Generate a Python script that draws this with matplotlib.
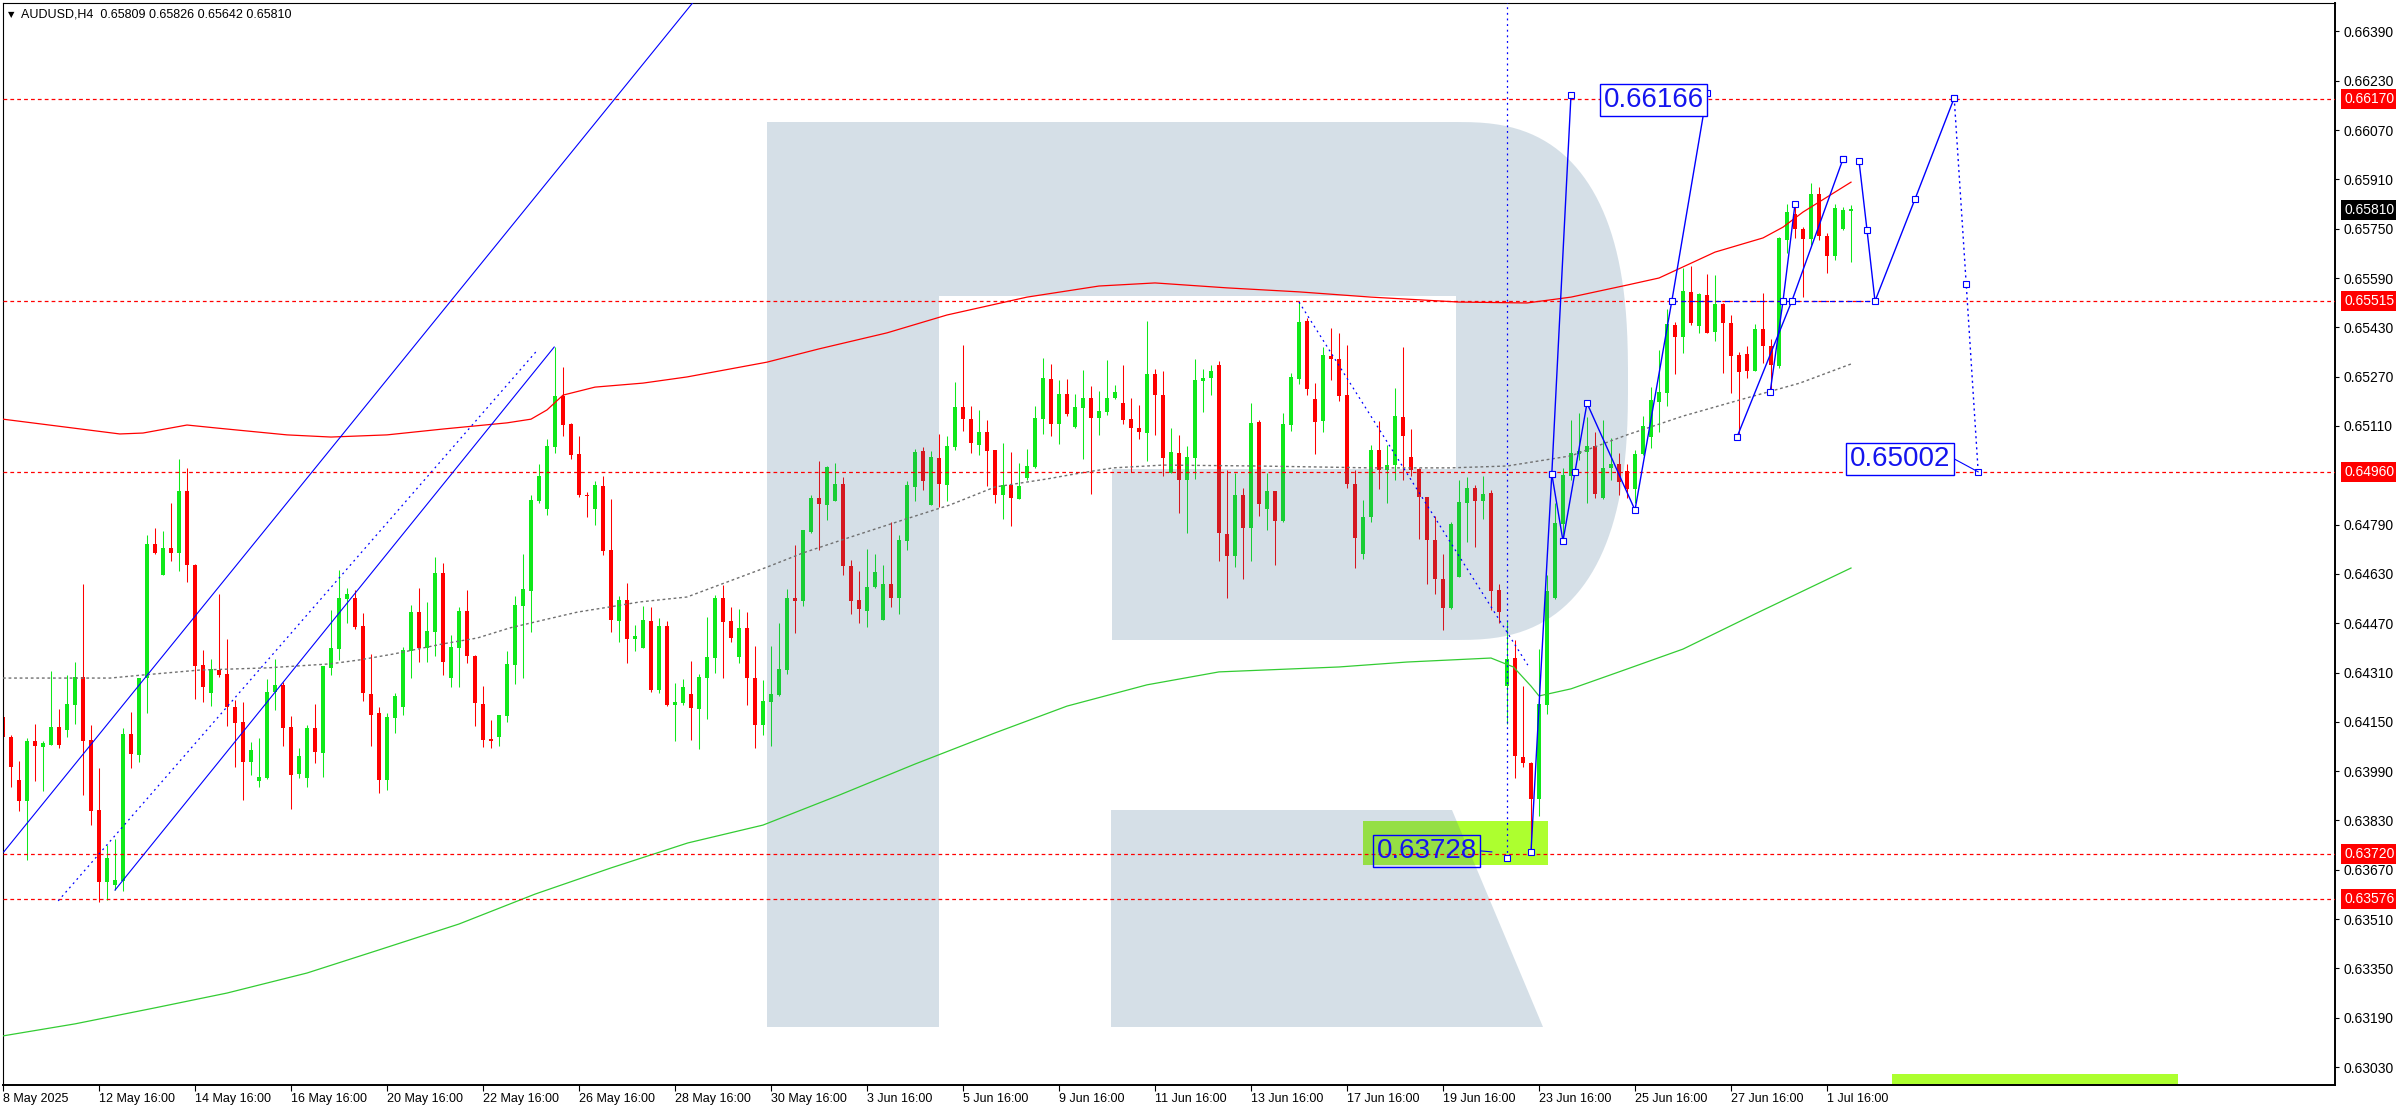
import numpy as np
import matplotlib.pyplot as plt
from matplotlib.patches import Rectangle, PathPatch
from matplotlib.path import Path

# AUDUSD H4 candles, 8 May 16:00 .. 2 Jul 04:00
opens = [0.64167, 0.64100, 0.63961, 0.63894, 0.64088, 0.64069, 0.64076, 0.64132, 0.64123, 0.64206,
         0.64294, 0.64091, 0.63864, 0.63631, 0.63621, 0.63634, 0.64110, 0.64042, 0.64291, 0.64727,
         0.64626, 0.64713, 0.64699, 0.64899, 0.64659, 0.64333, 0.64245, 0.64318, 0.64304, 0.64199,
         0.64148, 0.64021, 0.63959, 0.63969, 0.64246, 0.64270, 0.64132, 0.63981, 0.63969, 0.64129,
         0.64050, 0.64326, 0.64387, 0.64549, 0.64551, 0.64461, 0.64240, 0.64178, 0.63960, 0.64164,
         0.64199, 0.64381, 0.64505, 0.64389, 0.64443, 0.64632, 0.64293, 0.64389, 0.64508, 0.64364,
         0.64208, 0.64091, 0.64102, 0.64170, 0.64335, 0.64527, 0.64576, 0.64867, 0.64841, 0.65043,
         0.65207, 0.65116, 0.65018, 0.64886, 0.64841, 0.64915, 0.64708, 0.64478, 0.64545, 0.64418,
         0.64391, 0.64477, 0.64253, 0.64461, 0.64204, 0.64212, 0.64239, 0.64191, 0.64293, 0.64358,
         0.64553, 0.64477, 0.64361, 0.64453, 0.64291, 0.64139, 0.64215, 0.64237, 0.64318, 0.64551,
         0.64543, 0.64767, 0.64876, 0.64852, 0.64865, 0.64922, 0.64657, 0.64546, 0.64511, 0.64587,
         0.64481, 0.64598, 0.64553, 0.64738, 0.64913, 0.65029, 0.64854, 0.65005, 0.64919, 0.65042,
         0.65170, 0.65132, 0.65048, 0.65089, 0.65031, 0.64885, 0.64918, 0.64872, 0.64942, 0.64977,
         0.65132, 0.65262, 0.65116, 0.65215, 0.65107, 0.65169, 0.65202, 0.65136, 0.65156, 0.65201,
         0.65186, 0.65131, 0.65102, 0.65088, 0.65280, 0.65212, 0.64956, 0.65021, 0.64936, 0.65007,
         0.65256, 0.65267, 0.65307, 0.64761, 0.64689, 0.64885, 0.64779, 0.65123, 0.64840, 0.64900,
         0.64801, 0.65114, 0.65263, 0.65449, 0.65196, 0.65127, 0.65338, 0.65328, 0.65210, 0.64922,
         0.64695, 0.64816, 0.65033, 0.64966, 0.64984, 0.65138, 0.65008, 0.64971, 0.64881, 0.64741,
         0.64614, 0.64518, 0.64621, 0.64859, 0.64910, 0.64865, 0.64891, 0.64577, 0.64267, 0.64356,
         0.64037, 0.64016, 0.63901, 0.64205, 0.64552, 0.64792, 0.64949, 0.65019, 0.65026, 0.65045,
         0.64877, 0.64972, 0.64986, 0.64964, 0.64907, 0.65018, 0.65075, 0.65189, 0.65216, 0.65437,
         0.65399, 0.65543, 0.65434, 0.65535, 0.65414, 0.65505, 0.65443, 0.65340, 0.65343, 0.65289,
         0.65423, 0.65369, 0.65305, 0.65713, 0.65797, 0.65749, 0.65715, 0.65862, 0.65726, 0.65662,
         0.65748, 0.65809]
highs = [0.64324, 0.64107, 0.64023, 0.64096, 0.64143, 0.64088, 0.64315, 0.64190, 0.64302, 0.64343,
         0.64597, 0.64140, 0.63999, 0.63750, 0.63769, 0.64129, 0.64183, 0.64293, 0.64756, 0.64779,
         0.64769, 0.64859, 0.65003, 0.64972, 0.64661, 0.64383, 0.64353, 0.64565, 0.64419, 0.64221,
         0.64213, 0.64086, 0.64096, 0.64288, 0.64354, 0.64280, 0.64169, 0.64064, 0.64140, 0.64208,
         0.64331, 0.64513, 0.64643, 0.64583, 0.64578, 0.64502, 0.64370, 0.64199, 0.64178, 0.64242,
         0.64394, 0.64529, 0.64583, 0.64538, 0.64684, 0.64664, 0.64432, 0.64524, 0.64578, 0.64367,
         0.64266, 0.64156, 0.64172, 0.64380, 0.64558, 0.64695, 0.64886, 0.64987, 0.65067, 0.65365,
         0.65302, 0.65119, 0.65078, 0.64895, 0.64932, 0.64946, 0.64873, 0.64558, 0.64599, 0.64464,
         0.64526, 0.64522, 0.64486, 0.64477, 0.64275, 0.64288, 0.64347, 0.64305, 0.64489, 0.64562,
         0.64594, 0.64524, 0.64516, 0.64505, 0.64396, 0.64285, 0.64396, 0.64471, 0.64581, 0.64724,
         0.64771, 0.64886, 0.64997, 0.64981, 0.64989, 0.64944, 0.64675, 0.64640, 0.64711, 0.64695,
         0.64659, 0.64797, 0.64757, 0.64932, 0.65036, 0.65043, 0.65029, 0.65084, 0.65078, 0.65253,
         0.65372, 0.65174, 0.65161, 0.65129, 0.65031, 0.65056, 0.65024, 0.64990, 0.65035, 0.65174,
         0.65332, 0.65310, 0.65259, 0.65262, 0.65213, 0.65291, 0.65239, 0.65223, 0.65323, 0.65242,
         0.65307, 0.65201, 0.65177, 0.65450, 0.65294, 0.65288, 0.65104, 0.65080, 0.65044, 0.65327,
         0.65296, 0.65307, 0.65320, 0.64967, 0.64958, 0.64910, 0.65186, 0.65129, 0.64956, 0.64900,
         0.65151, 0.65281, 0.65512, 0.65459, 0.65250, 0.65366, 0.65428, 0.65413, 0.65372, 0.64966,
         0.64871, 0.65047, 0.65126, 0.65049, 0.65233, 0.65366, 0.65101, 0.64975, 0.64881, 0.64817,
         0.64695, 0.64798, 0.64934, 0.64944, 0.64919, 0.64946, 0.64903, 0.64596, 0.64478, 0.64416,
         0.64267, 0.64021, 0.64385, 0.64627, 0.64859, 0.64975, 0.65129, 0.65151, 0.65138, 0.65089,
         0.65129, 0.65070, 0.65021, 0.64985, 0.65032, 0.65143, 0.65235, 0.65356, 0.65491, 0.65446,
         0.65621, 0.65629, 0.65540, 0.65603, 0.65600, 0.65509, 0.65470, 0.65351, 0.65369, 0.65441,
         0.65540, 0.65391, 0.65724, 0.65829, 0.65827, 0.65754, 0.65897, 0.65886, 0.65735, 0.65830,
         0.65821, 0.65826]
lows = [0.64021, 0.63940, 0.63862, 0.63702, 0.63959, 0.63926, 0.64076, 0.64066, 0.64102, 0.64143,
        0.63912, 0.63815, 0.63566, 0.63572, 0.63604, 0.63602, 0.64001, 0.64021, 0.64180, 0.64695,
        0.64626, 0.64673, 0.64639, 0.64605, 0.64224, 0.64215, 0.64201, 0.64297, 0.64137, 0.64005,
        0.63896, 0.63977, 0.63937, 0.63963, 0.64188, 0.64073, 0.63867, 0.63967, 0.63940, 0.64017,
        0.63972, 0.64302, 0.64351, 0.64470, 0.64450, 0.64219, 0.64070, 0.63920, 0.63930, 0.64113,
        0.64172, 0.64291, 0.64345, 0.64345, 0.64362, 0.64302, 0.64264, 0.64262, 0.64342, 0.64138,
        0.64067, 0.64064, 0.64072, 0.64148, 0.64272, 0.64291, 0.64443, 0.64859, 0.64821, 0.65021,
        0.65078, 0.65003, 0.64881, 0.64816, 0.64789, 0.64691, 0.64443, 0.64410, 0.64340, 0.64381,
        0.64391, 0.64248, 0.64244, 0.64201, 0.64089, 0.64204, 0.64091, 0.64062, 0.64159, 0.64309,
        0.64293, 0.64410, 0.64342, 0.64204, 0.64066, 0.64107, 0.64072, 0.64234, 0.64305, 0.64437,
        0.64526, 0.64762, 0.64708, 0.64805, 0.64865, 0.64625, 0.64499, 0.64472, 0.64459, 0.64583,
        0.64479, 0.64524, 0.64499, 0.64706, 0.64867, 0.64903, 0.64854, 0.64846, 0.64867, 0.65031,
        0.65094, 0.65023, 0.65015, 0.64916, 0.64861, 0.64808, 0.64786, 0.64872, 0.64934, 0.64974,
        0.65083, 0.65078, 0.65051, 0.65142, 0.65104, 0.65002, 0.64889, 0.65080, 0.65145, 0.65199,
        0.65116, 0.64959, 0.65067, 0.64996, 0.65080, 0.64948, 0.64956, 0.64828, 0.64763, 0.64937,
        0.65154, 0.65212, 0.64672, 0.64553, 0.64653, 0.64615, 0.64672, 0.64818, 0.64773, 0.64658,
        0.64799, 0.65095, 0.65245, 0.65210, 0.65018, 0.65089, 0.65258, 0.65192, 0.64910, 0.64649,
        0.64677, 0.64798, 0.64906, 0.64860, 0.64935, 0.64935, 0.64947, 0.64742, 0.64596, 0.64565,
        0.64449, 0.64516, 0.64619, 0.64732, 0.64718, 0.64809, 0.64513, 0.64472, 0.64143, 0.63969,
        0.64004, 0.63728, 0.63845, 0.64177, 0.64550, 0.64739, 0.64934, 0.65000, 0.64859, 0.64875,
        0.64872, 0.64934, 0.64886, 0.64875, 0.64859, 0.65016, 0.65039, 0.65091, 0.65175, 0.65278,
        0.65348, 0.65437, 0.65410, 0.65410, 0.65385, 0.65283, 0.65218, 0.65075, 0.65264, 0.65287,
        0.65313, 0.65221, 0.65297, 0.65672, 0.65719, 0.65529, 0.65697, 0.65713, 0.65607, 0.65648,
        0.65746, 0.65642]
closes = [0.64100, 0.64005, 0.63894, 0.64088, 0.64073, 0.64080, 0.64132, 0.64076, 0.64208, 0.64294,
          0.64089, 0.63862, 0.63631, 0.63707, 0.63637, 0.64110, 0.64046, 0.64293, 0.64727, 0.64699,
          0.64713, 0.64699, 0.64899, 0.64659, 0.64331, 0.64264, 0.64320, 0.64302, 0.64199, 0.64147,
          0.64021, 0.64059, 0.63972, 0.64246, 0.64270, 0.64131, 0.63977, 0.64039, 0.64129, 0.64051,
          0.64331, 0.64389, 0.64551, 0.64564, 0.64459, 0.64243, 0.64172, 0.63960, 0.64167, 0.64234,
          0.64383, 0.64505, 0.64391, 0.64445, 0.64632, 0.64345, 0.64392, 0.64508, 0.64362, 0.64210,
          0.64091, 0.64089, 0.64172, 0.64338, 0.64529, 0.64581, 0.64870, 0.64948, 0.65045, 0.65207,
          0.65113, 0.65016, 0.64886, 0.64883, 0.64919, 0.64705, 0.64481, 0.64545, 0.64419, 0.64429,
          0.64481, 0.64253, 0.64461, 0.64204, 0.64213, 0.64262, 0.64196, 0.64294, 0.64359, 0.64553,
          0.64475, 0.64423, 0.64453, 0.64293, 0.64139, 0.64217, 0.64240, 0.64321, 0.64553, 0.64543,
          0.64771, 0.64876, 0.64856, 0.64976, 0.64922, 0.64657, 0.64543, 0.64515, 0.64587, 0.64635,
          0.64598, 0.64553, 0.64740, 0.64919, 0.65025, 0.64932, 0.65009, 0.64922, 0.65045, 0.65170,
          0.65132, 0.65055, 0.65089, 0.65029, 0.64885, 0.64918, 0.64877, 0.64915, 0.64980, 0.65136,
          0.65266, 0.65116, 0.65215, 0.65148, 0.65170, 0.65202, 0.65136, 0.65158, 0.65202, 0.65219,
          0.65129, 0.65104, 0.65091, 0.65280, 0.65210, 0.65007, 0.65024, 0.64936, 0.65008, 0.65259,
          0.65267, 0.65288, 0.64764, 0.64689, 0.64885, 0.64779, 0.65121, 0.64858, 0.64900, 0.64801,
          0.65117, 0.65269, 0.65446, 0.65229, 0.65124, 0.65341, 0.65328, 0.65208, 0.64922, 0.64747,
          0.64816, 0.65033, 0.64966, 0.64984, 0.65142, 0.65078, 0.64968, 0.64881, 0.64741, 0.64614,
          0.64518, 0.64791, 0.64863, 0.64910, 0.64866, 0.64888, 0.64575, 0.64505, 0.64354, 0.64040,
          0.64016, 0.63901, 0.64207, 0.64573, 0.64795, 0.64950, 0.65021, 0.65029, 0.65045, 0.64888,
          0.64972, 0.64986, 0.64929, 0.64907, 0.65018, 0.65110, 0.65194, 0.65219, 0.65441, 0.65399,
          0.65548, 0.65443, 0.65538, 0.65412, 0.65505, 0.65443, 0.65338, 0.65284, 0.65289, 0.65423,
          0.65369, 0.65308, 0.65721, 0.65805, 0.65749, 0.65716, 0.65862, 0.65727, 0.65662, 0.65816,
          0.65810, 0.65810]

date_labels = ['8 May 2025', '12 May 16:00', '14 May 16:00', '16 May 16:00', '20 May 16:00',
               '22 May 16:00', '26 May 16:00', '28 May 16:00', '30 May 16:00', '3 Jun 16:00',
               '5 Jun 16:00', '9 Jun 16:00', '11 Jun 16:00', '13 Jun 16:00', '17 Jun 16:00',
               '19 Jun 16:00', '23 Jun 16:00', '25 Jun 16:00', '27 Jun 16:00', '1 Jul 16:00']
price_ticks = [0.66390, 0.66230, 0.66070, 0.65910, 0.65750, 0.65590, 0.65430, 0.65270, 0.65110,
               0.64790, 0.64630, 0.64470, 0.64310, 0.64150, 0.63990, 0.63830, 0.63670, 0.63510,
               0.63350, 0.63190, 0.63030]
levels = [0.66170, 0.65515, 0.64960, 0.63720, 0.63576]

# moving averages, sampled along the drawn curves (bar index, price)
ma_red_x = [0, 14.6, 17.5, 23, 26.8, 35.5, 41, 48, 55, 63, 66, 68, 70, 74, 80, 85.5, 95.5, 102,
            110.5, 118, 128, 137, 144, 153, 162, 171, 182, 190.5, 196, 203, 207, 214, 220, 222.5,
            225, 228.4, 231]
ma_red_y = [0.65132, 0.65084, 0.65087, 0.65113, 0.65103, 0.65081, 0.65074, 0.65081, 0.65100,
            0.65120, 0.65132, 0.65162, 0.65210, 0.65236, 0.65249, 0.65269, 0.65317, 0.65360,
            0.65412, 0.65470, 0.65528, 0.65564, 0.65574, 0.65558, 0.65545, 0.65528, 0.65512,
            0.65509, 0.65528, 0.65567, 0.65590, 0.65674, 0.65720, 0.65755, 0.65804, 0.65859, 0.65901]
ma_green_x = [0, 9, 19, 28, 38, 47, 57, 66.5, 76, 85.6, 95, 104.6, 114, 124, 133, 143, 152, 167,
              175.5, 186, 188.8, 191, 192, 196, 202, 210, 219, 231]
ma_green_y = [0.63131, 0.63170, 0.63222, 0.63270, 0.63335, 0.63410, 0.63494, 0.63591, 0.63676,
              0.63757, 0.63815, 0.63913, 0.64013, 0.64114, 0.64201, 0.64270, 0.64312, 0.64328,
              0.64344, 0.64357, 0.64328, 0.64266, 0.64234, 0.64257, 0.64312, 0.64386, 0.64500, 0.64649]
ma_gray_x = [0, 13.4, 17.5, 24.6, 33, 40.9, 44.6, 48.8, 55, 59.3, 63.4, 67.5, 71.8, 75.9, 79.6,
             85.5, 95.5, 100, 106, 112.5, 118.4, 124, 130.5, 134.6, 138.8, 145, 157, 171, 181, 188,
             196, 203, 210, 218.4, 224.6, 231]
ma_gray_y = [0.64292, 0.64292, 0.64302, 0.64318, 0.64325, 0.64338, 0.64351, 0.64370, 0.64403,
             0.64422, 0.64455, 0.64480, 0.64506, 0.64523, 0.64539, 0.64555, 0.64652, 0.64698,
             0.64750, 0.64805, 0.64854, 0.64912, 0.64938, 0.64957, 0.64974, 0.64983, 0.64980,
             0.64974, 0.64974, 0.64980, 0.65013, 0.65081, 0.65142, 0.65204, 0.65249, 0.65311]

# analyst drawings (bar index, price)
chan_up_x, chan_up_y = [0.1, 86.5], [0.63728, 0.66492]
chan_lo_x, chan_lo_y = [14, 68.9], [0.63604, 0.65366]
chan_mid_x, chan_mid_y = [6.9, 66.8], [0.63569, 0.65356]
down_x, down_y = [162, 190.6], [0.65512, 0.64334]
wave1_x, wave1_y = [191, 193.6, 196], [0.63728, 0.64954, 0.66184]
wave2_x = [193.6, 195, 196.5, 198, 204, 208.6, 213]
wave2_y = [0.64954, 0.64737, 0.64961, 0.65184, 0.64837, 0.65515, 0.66190]
wave3_x, wave3_y = [216.75, 223.6, 230], [0.65074, 0.65515, 0.65976]
wave4_x, wave4_y = [220.9, 222.5, 224], [0.65221, 0.65515, 0.65830]
fc_x = [232, 233, 234, 239, 243.9]
fc_y = [0.65970, 0.65746, 0.65515, 0.65846, 0.66174]
fc_dot_x, fc_dot_y = [243.9, 245.4, 246.9], [0.66174, 0.65571, 0.64961]
hline_x, hline_y = [208.6, 234], [0.65515, 0.65515]

# ---- figure geometry (pixels of the 2396x1110 screenshot)
W, H = 2396, 1110
L, R, T, B = 2.5, 2335, 3, 1085

def to_axes(x, y):
    return (x - L) / (R - L), (B - y) / (B - T)

fig = plt.figure(figsize=(W / 100, H / 100), dpi=100)
fig.patch.set_facecolor('white')
ax = fig.add_axes([L / W, 1 - B / H, (R - L) / W, (B - T) / H])
ax.set_xlim((L - 3) / 8, (R - 3) / 8)
ax.set_ylim(0.66492 - B / 30821, 0.66492 - T / 30821)

font = 'Liberation Sans'

# candles
n = len(closes)
xs = np.arange(n)
o = np.array(opens); c = np.array(closes)
hi = np.array(highs); lo = np.array(lows)
cols = np.where(c >= o, '#0fe81a', '#ff0000')
ax.vlines(xs, lo, hi, colors=cols, linewidth=0.75, zorder=2)
body = np.maximum(np.abs(c - o), 0.00004)
ax.bar(xs, body, bottom=np.minimum(o, c), width=0.62, color=cols, linewidth=0, zorder=2)

# highlight boxes
x0, y0 = to_axes(1363, 865)
x1, y1 = to_axes(1548, 821)
ax.add_patch(Rectangle((x0, y0), x1 - x0, y1 - y0, transform=ax.transAxes,
                       facecolor='#adff2f', edgecolor='none', zorder=1.5))
x0, y0 = to_axes(1892, 1085)
x1, y1 = to_axes(2178, 1074)
ax.add_patch(Rectangle((x0, y0), x1 - x0, y1 - y0, transform=ax.transAxes,
                       facecolor='#adff2f', edgecolor='none', zorder=1.5))

# "R" watermark
cx, cy, a, b, ne = 1456, 381, 172, 259, 2.6
th = np.linspace(-np.pi / 2, np.pi / 2, 80)
bowl = [(cx + a * np.sign(np.cos(t)) * abs(np.cos(t)) ** (2 / ne),
         cy + b * np.sign(np.sin(t)) * abs(np.sin(t)) ** (2 / ne)) for t in th]
top_part = [(767, 122), (1456, 122)] + bowl + [(1456, 640), (1112, 640), (1112, 469),
                                               (1456, 469), (1456, 296), (939, 296),
                                               (939, 1027), (767, 1027), (767, 122)]
leg = [(1111, 810), (1452, 810), (1543, 1027), (1111, 1027), (1111, 810)]
verts, codes = [], []
for poly in (top_part, leg):
    pts = [to_axes(px, py) for px, py in poly]
    verts += pts
    codes += [Path.MOVETO] + [Path.LINETO] * (len(pts) - 2) + [Path.CLOSEPOLY]
ax.add_patch(PathPatch(Path(verts, codes), transform=ax.transAxes, facecolor='#407196',
                       alpha=0.22, edgecolor='none', zorder=3))

# moving averages
ax.plot(ma_red_x, ma_red_y, color='#ff0000', lw=0.9, zorder=4)
ax.plot(ma_green_x, ma_green_y, color='#33cc33', lw=0.9, zorder=4)
ax.plot(ma_gray_x, ma_gray_y, color='#707070', lw=1.0, ls=(0, (2, 2)), zorder=4)

# horizontal levels
for lv in levels:
    ax.axhline(lv, color='#ff0000', lw=0.9, ls=(0, (3, 2.5)), zorder=4)

# blue drawings
blue = '#0000ff'
sq = dict(marker='s', ms=4.2, mfc='white', mec=blue, mew=0.8)
ax.plot(chan_up_x, chan_up_y, color=blue, lw=0.8, zorder=5)
ax.plot(chan_lo_x, chan_lo_y, color=blue, lw=0.8, zorder=5)
ax.plot(chan_mid_x, chan_mid_y, color=blue, lw=0.9, ls=(0, (1.5, 3)), zorder=5)
ax.plot(down_x, down_y, color=blue, lw=0.9, ls=(0, (1.5, 3)), zorder=5)
ax.plot([188, 188], [0.63708, 0.6649], color=blue, lw=0.9, ls=(0, (1.5, 3)), zorder=5)
ax.plot([188], [0.63708], ls='none', zorder=6, **sq)
ax.plot(hline_x, hline_y, color=blue, lw=0.9, ls=(0, (4, 3)), zorder=5)
for px_, py_ in ((wave1_x, wave1_y), (wave2_x, wave2_y), (wave3_x, wave3_y),
                 (wave4_x, wave4_y), (fc_x, fc_y)):
    ax.plot(px_, py_, color=blue, lw=1.0, zorder=6, **sq)
ax.plot([230], [0.65976], zorder=6, **sq)
ax.plot(fc_dot_x, fc_dot_y, color=blue, lw=1.0, ls=(0, (1.5, 2.5)), zorder=6, **sq)

# target labels
box_kw = dict(boxstyle='square,pad=0.12', edgecolor=blue, linewidth=1.0)
ax.text(212.6, 0.66168, '0.66166', color='#1414ee', fontsize=20, family=font,
        ha='right', va='center', zorder=7, bbox=dict(facecolor='white', **box_kw))
ax.text(243.4, 0.65003, '0.65002', color='#1414ee', fontsize=20, family=font,
        ha='right', va='center', zorder=7, bbox=dict(facecolor='white', **box_kw))
ax.text(184.25, 0.63731, '0.63728', color='#1414ee', fontsize=20, family=font,
        ha='right', va='center', zorder=7, bbox=dict(facecolor='none', **box_kw))
ax.plot([243.9, 246.9], [0.65003, 0.64961], color=blue, lw=0.8, zorder=6)
ax.plot([184.8, 186.1], [0.63731, 0.63728], color=blue, lw=0.8, zorder=6)

# axes styling
for side in ('left', 'top'):
    ax.spines[side].set_linewidth(0.8)
for side in ('right', 'bottom'):
    ax.spines[side].set_linewidth(1.4)
ax.yaxis.tick_right()
ax.set_yticks(price_ticks)
ax.set_yticklabels([f'{p:.5f}' for p in price_ticks], family=font, fontsize=10)
ax.tick_params(axis='y', direction='out', length=3, width=0.8, pad=3)
ax.set_xticks(np.arange(len(date_labels)) * 12)
ax.set_xticklabels(date_labels, family=font, fontsize=9, ha='left')
ax.tick_params(axis='x', direction='out', length=4, width=0.8, pad=2)

# price boxes on the right scale
lab_x = to_axes(2344, 0)[0]
for lv in levels:
    ax.text(lab_x, lv, f'{lv:.5f}', transform=ax.get_yaxis_transform(), color='white',
            fontsize=10, family=font, va='center', ha='left', zorder=8, clip_on=False,
            bbox=dict(boxstyle='square,pad=0.22', facecolor='#ff0000', edgecolor='none'))
ax.text(lab_x, closes[-1], f'{closes[-1]:.5f}', transform=ax.get_yaxis_transform(),
        color='white', fontsize=10, family=font, va='center', ha='left', zorder=8,
        clip_on=False, bbox=dict(boxstyle='square,pad=0.22', facecolor='black', edgecolor='none'))

# header
fig.text(8 / W, 1 - 14.5 / H, '\u25bc', fontsize=6, family='DejaVu Sans', va='center')
fig.text(21 / W, 1 - 14.5 / H,
         f'AUDUSD,H4  {opens[-1]:.5f} {highs[-1]:.5f} {lows[-1]:.5f} {closes[-1]:.5f}',
         fontsize=9, family=font, va='center')

fig.savefig('out.png', dpi=100)
